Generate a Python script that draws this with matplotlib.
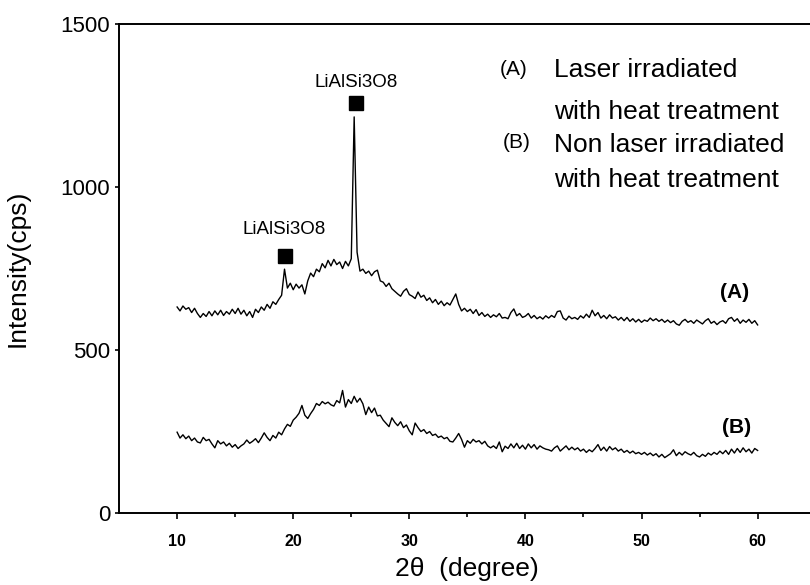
import numpy as np
import matplotlib
matplotlib.use("Agg")
import matplotlib.pyplot as plt

plt.rcParams['font.family'] = ['Liberation Sans', 'DejaVu Sans']

# intensity every 0.25 degree, 10 -> 60
int_a = [632, 620, 635, 625, 630, 615, 628, 612, 600, 612, 603, 618, 605, 620, 608, 622,
         606, 618, 610, 625, 612, 628, 610, 622, 605, 618, 600, 625, 615, 632, 622, 640,
         628, 648, 640, 655, 668, 748, 690, 705, 685, 702, 690, 700, 672, 712, 736, 725,
         748, 740, 765, 752, 775, 758, 778, 762, 770, 750, 772, 758, 780, 1215, 800, 742,
         748, 735, 742, 728, 740, 745, 712, 708, 695, 705, 688, 680, 672, 665, 680, 688,
         670, 665, 658, 678, 662, 668, 652, 660, 645, 655, 640, 650, 636, 645, 638, 655,
         672, 640, 620, 628, 618, 625, 612, 624, 606, 615, 603, 610, 600, 608, 602, 612,
         598, 600, 596, 615, 626, 605, 612, 600, 604, 612, 598, 606, 596, 602, 595, 605,
         598, 606, 600, 618, 620, 598, 592, 604, 596, 600, 594, 605, 598, 610, 600, 622,
         605, 615, 598, 606, 596, 608, 598, 602, 592, 600, 590, 600, 588, 596, 586, 594,
         585, 592, 588, 598, 590, 596, 588, 594, 585, 592, 584, 590, 580, 576, 588, 594,
         585, 590, 582, 592, 586, 580, 590, 596, 582, 588, 578, 586, 590, 582, 596, 600,
         588, 596, 582, 592, 585, 594, 582, 590, 577]

int_b = [248, 230, 240, 228, 236, 222, 230, 218, 215, 232, 222, 226, 212, 200, 222, 212,
         218, 206, 214, 202, 210, 198, 206, 212, 224, 214, 220, 228, 216, 230, 246, 232,
         222, 238, 230, 248, 240, 258, 272, 266, 285, 294, 306, 330, 300, 290, 305, 318,
         336, 330, 342, 335, 340, 332, 328, 345, 338, 376, 325, 348, 336, 358, 340, 352,
         335, 302, 325, 308, 322, 298, 300, 285, 275, 265, 292, 278, 268, 280, 262, 270,
         252, 240, 276, 262, 250, 256, 244, 250, 238, 242, 232, 236, 228, 232, 220, 218,
         230, 244, 226, 202, 222, 214, 226, 218, 222, 212, 220, 206, 200, 206, 198, 218,
         188, 205, 198, 212, 200, 214, 198, 208, 196, 212, 200, 210, 196, 206, 200, 196,
         194, 190, 200, 206, 190, 198, 206, 194, 202, 194, 200, 190, 196, 186, 194, 188,
         198, 210, 192, 202, 190, 204, 194, 200, 190, 196, 186, 192, 184, 190, 182, 186,
         180, 186, 178, 184, 176, 182, 172, 180, 170, 176, 182, 194, 176, 186, 178, 188,
         182, 178, 186, 176, 172, 180, 174, 184, 178, 186, 180, 190, 182, 192, 180, 196,
         184, 198, 186, 200, 188, 196, 184, 198, 192]

two_theta_a = np.linspace(10, 60, len(int_a))
two_theta_b = np.linspace(10, 60, len(int_b))

# LiAlSi3O8 peak marks
peak_x = [19.25, 25.45]
peak_y = [788, 1258]
peak_lbl_y = [871, 1322]

fig = plt.figure(figsize=(8.1, 5.85), dpi=100)
ax = fig.add_axes([0.147, 0.123, 0.860, 0.836])

ax.plot(two_theta_a, int_a, color='black', lw=1.0)
ax.plot(two_theta_b, int_b, color='black', lw=1.0)
ax.plot(peak_x, peak_y, 's', color='black', ms=9.5)
for px, py in zip(peak_x, peak_lbl_y):
    ax.text(px, py, 'LiAlSi3O8', ha='center', va='center', fontsize=13.5)

ax.text(58.0, 675, '(A)', ha='center', va='center', fontsize=15, fontweight='bold')
ax.text(58.2, 261, '(B)', ha='center', va='center', fontsize=15, fontweight='bold')

ax.text(37.8, 1359, '(A)', ha='left', va='center', fontsize=15)
ax.text(42.45, 1359, 'Laser irradiated', ha='left', va='center', fontsize=19)
ax.text(42.45, 1230, 'with heat treatment', ha='left', va='center', fontsize=19)
ax.text(38.06, 1135, '(B)', ha='left', va='center', fontsize=15)
ax.text(42.45, 1129, 'Non laser irradiated', ha='left', va='center', fontsize=19)
ax.text(42.45, 1021, 'with heat treatment', ha='left', va='center', fontsize=19)

ax.set_xlim(5, 65)
ax.set_ylim(0, 1500)
ax.set_xticks([10, 20, 30, 40, 50, 60])
ax.set_xticks([15, 25, 35, 45, 55], minor=True)
ax.set_yticks([0, 500, 1000, 1500])
ax.tick_params(axis='x', labelsize=11.5, direction='out', length=4, width=1.2, pad=11)
ax.tick_params(axis='x', which='minor', direction='out', length=3, width=1.2)
ax.tick_params(axis='y', labelsize=16, direction='out', length=3, width=1.2)
for lab in ax.get_xticklabels():
    lab.set_fontweight('bold')

ax.spines['right'].set_visible(False)
for s in ['left', 'bottom', 'top']:
    ax.spines[s].set_linewidth(1.4)

ax.set_xlabel('2θ  (degree)', fontsize=19, labelpad=6)
ax.set_ylabel('Intensity(cps)', fontsize=19, labelpad=22)

fig.savefig('out.png', dpi=100)
